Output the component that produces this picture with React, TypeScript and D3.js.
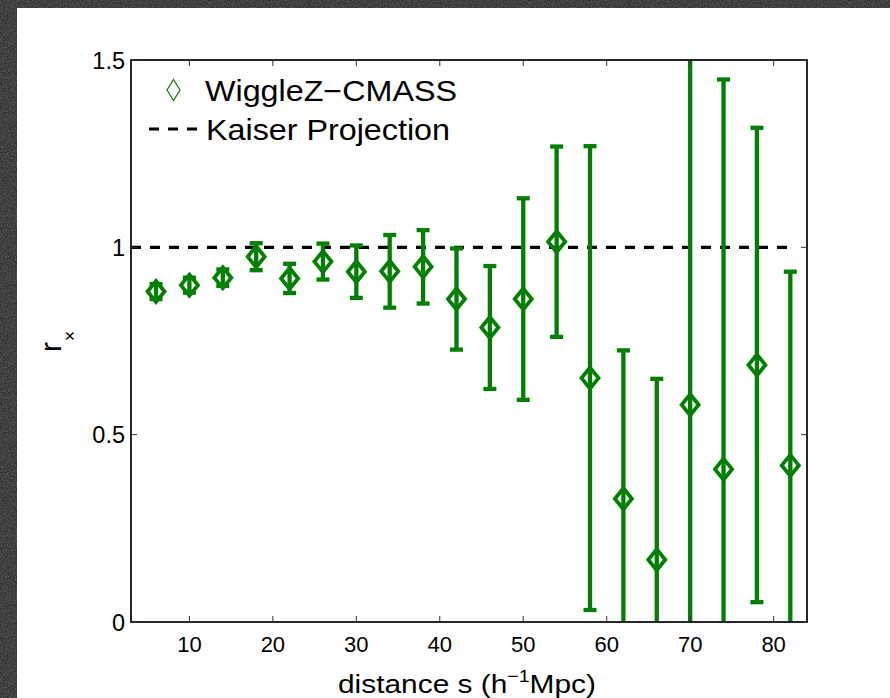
import React from "react";
import * as d3 from "d3";

const distances = [6, 10, 14, 18, 22, 26, 30, 34, 38, 42, 46, 50, 54, 58, 62, 66, 70, 74, 78, 82];
const rValues = [0.882, 0.899, 0.919, 0.975, 0.917, 0.962, 0.935, 0.936, 0.948, 0.862, 0.786, 0.862, 1.015, 0.651, 0.329, 0.166, 0.58, 0.408, 0.686, 0.418];
const rErrors = [0.02, 0.02, 0.022, 0.036, 0.039, 0.048, 0.07, 0.097, 0.098, 0.135, 0.164, 0.269, 0.254, 0.619, 0.396, 0.483, 1.0, 1.04, 0.633, 0.517];
const xTicks = [10, 20, 30, 40, 50, 60, 70, 80];
const yTicks = [0, 0.5, 1, 1.5];
const yTickLabels = ["0", "0.5", "1", "1.5"];
const kaiserValue = 1;
const kaiserRange = [3, 82];
const legendLabels = ["WiggleZ\u2212CMASS", "Kaiser Projection"];

const W = 890;
const H = 698;
const left = 131;
const right = 807;
const top = 60;
const bottom = 622;
const green = "#008000";
const font = "'Liberation Sans', Arial, Helvetica, sans-serif";

export default function App() {
  const x = d3.scaleLinear().domain([3, 84]).range([left, right]);
  const y = d3.scaleLinear().domain([0, 1.5]).range([bottom, top]);
  const hw = 8.5;
  const hh = 10.5;
  const diamond = (cx: number, cy: number, a = hw, b = hh) =>
    `M${cx},${cy - b}L${cx + a},${cy}L${cx},${cy + b}L${cx - a},${cy}Z`;
  const capHalf = 6.5;
  const kaiserLine = d3.line<number>()
    .x((d) => x(d))
    .y(() => y(kaiserValue))(kaiserRange);

  return (
    <svg
      width={W}
      height={H}
      style={{ position: "fixed", left: 0, top: 0, display: "block" }}
      fontFamily={font}
    >
      <defs>
        <clipPath id="plotClip">
          <rect x={left} y={top} width={right - left} height={bottom - top} />
        </clipPath>
        <filter id="grain" x="0" y="0" width="100%" height="100%">
          <feTurbulence type="fractalNoise" baseFrequency="0.8" numOctaves="2" seed="3" result="n" />
          <feColorMatrix type="matrix" values="0 0 0 0 0.45  0 0 0 0 0.45  0 0 0 0 0.45  0 0 0 0.6 -0.15" />
        </filter>
      </defs>
      <rect x={0} y={0} width={W} height={H} fill="#2c2c2c" />
      <rect x={0} y={0} width={W} height={H} filter="url(#grain)" />
      <rect x={17} y={8} width={W - 17} height={H - 8} fill="#ffffff" />

      {/* kaiser dashed line */}
      <path d={kaiserLine ?? ""} stroke="#000" strokeWidth={3.2} strokeDasharray="10,9" fill="none" clipPath="url(#plotClip)" />

      {/* error bars */}
      <g clipPath="url(#plotClip)" stroke={green} fill="none">
        {distances.map((d, i) => {
          const cx = x(d);
          const y1 = y(rValues[i] + rErrors[i]);
          const y0 = y(rValues[i] - rErrors[i]);
          return (
            <g key={i}>
              <line x1={cx} x2={cx} y1={y1} y2={y0} strokeWidth={4.3} />
              <line x1={cx - capHalf} x2={cx + capHalf} y1={y1} y2={y1} strokeWidth={4.3} />
              <line x1={cx - capHalf} x2={cx + capHalf} y1={y0} y2={y0} strokeWidth={4.3} />
            </g>
          );
        })}
        {distances.map((d, i) => (
          <path key={"m" + i} d={diamond(x(d), y(rValues[i]))} strokeWidth={3.8} strokeLinejoin="miter" />
        ))}
      </g>

      {/* axes box */}
      <rect x={left} y={top} width={right - left} height={bottom - top} fill="none" stroke="#111" strokeWidth={1.8} />

      {/* ticks */}
      <g stroke="#333" strokeWidth={1}>
        {xTicks.map((t) => (
          <g key={"xt" + t}>
            <line x1={x(t)} x2={x(t)} y1={bottom} y2={bottom - 6} />
            <line x1={x(t)} x2={x(t)} y1={top} y2={top + 6} />
          </g>
        ))}
        {yTicks.map((t) => (
          <g key={"yt" + t}>
            <line x1={left} x2={left + 6} y1={y(t)} y2={y(t)} />
            <line x1={right} x2={right - 6} y1={y(t)} y2={y(t)} />
          </g>
        ))}
      </g>

      {/* tick labels */}
      <g fill="#000" fontSize={22}>
        {xTicks.map((t) => (
          <text key={"xl" + t} x={x(t)} y={652} textAnchor="middle">
            {t}
          </text>
        ))}
      </g>
      <g fill="#000" fontSize={23.5}>
        {yTicks.map((t, i) => (
          <text key={"yl" + t} x={125} y={y(t) + 8.5} textAnchor="end">
            {yTickLabels[i]}
          </text>
        ))}
      </g>

      {/* axis labels */}
      <text x={338} y={693} fontSize={26} textLength={258} lengthAdjust="spacingAndGlyphs" fill="#000">
        distance s (h
        <tspan fontSize={17} dy={-11}>{"\u22121"}</tspan>
        <tspan dy={11}>Mpc)</tspan>
      </text>
      <text transform="translate(61,347) rotate(-90)" textAnchor="middle" fontSize={30} fill="#000">
        r
      </text>
      <text transform="translate(76,336) rotate(-90)" textAnchor="middle" fontSize={18} fill="#000">
        {"\u00d7"}
      </text>

      {/* legend */}
      <path d={diamond(173.5, 90, 6.5, 10.5)} fill="none" stroke={green} strokeWidth={1.2} />
      <text x={205} y={101} fontSize={29} textLength={252} lengthAdjust="spacingAndGlyphs" fill="#000">
        {legendLabels[0]}
      </text>
      <line x1={149} x2={199} y1={129} y2={129} stroke="#000" strokeWidth={3} strokeDasharray="10,9" />
      <text x={206} y={140} fontSize={29} textLength={244} lengthAdjust="spacingAndGlyphs" fill="#000">
        {legendLabels[1]}
      </text>
    </svg>
  );
}
